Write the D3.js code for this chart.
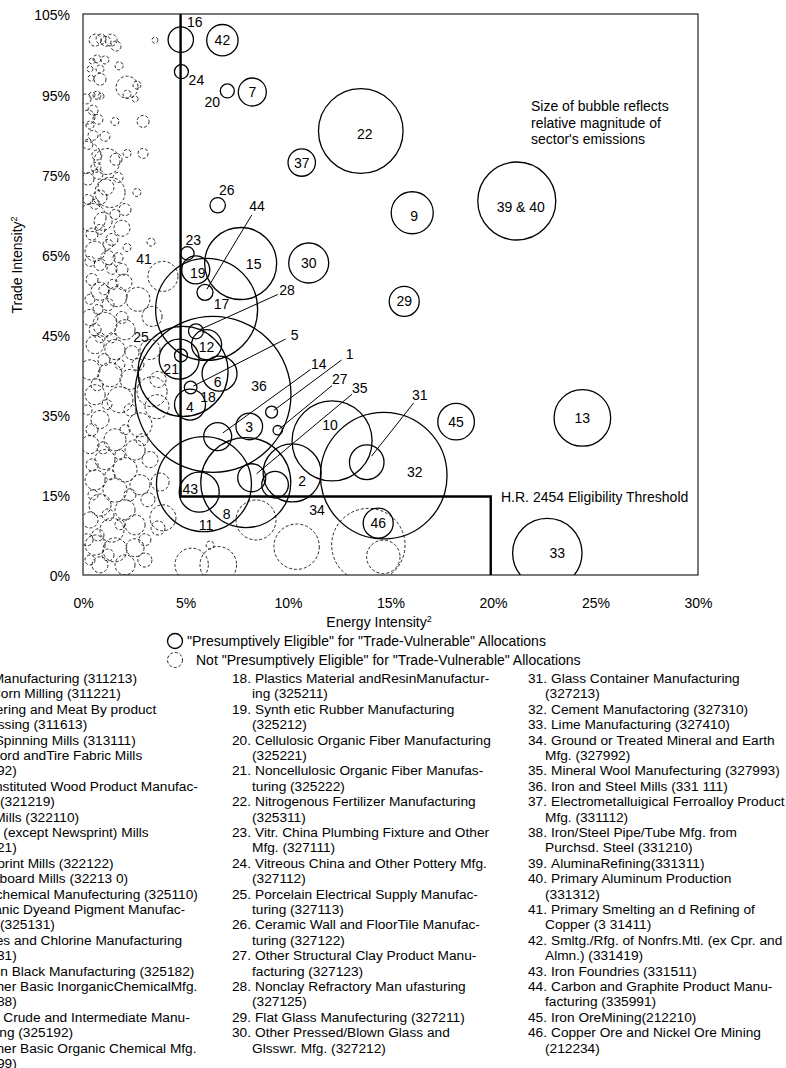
<!DOCTYPE html>
<html><head><meta charset="utf-8">
<script src="https://cdn.jsdelivr.net/npm/d3@7"></script>
<style>
body{margin:0;background:#fff;}
svg{display:block;font-family:"Liberation Sans",Arial,Helvetica,sans-serif;}
</style></head><body>
<svg id="chart" width="786" height="1068"></svg>
<script>
// ---------------- DATA ----------------
// Presumptively eligible sectors (solid bubbles): label, energy intensity (%), trade intensity (%), relative emissions
const eligibleLabels    = ["1","2","3","4","5","6","7","8","9","10","11","12","13","14","15","16","17","18","19","20","21","22","23","24","26","27","28","29","30","31","32","33","34","35","36","37","39 & 40","42","43","44","45","46",""];
const eligibleEnergy    = [9.20,10.20,8.11,5.22,5.25,6.66,8.26,7.94,16.06,12.15,5.90,6.03,24.36,6.57,7.69,4.77,6.03,4.88,5.50,7.04,4.69,13.55,5.09,4.80,6.57,9.50,5.51,15.67,11.01,13.84,14.67,22.65,9.37,8.23,6.34,10.67,21.16,6.80,5.67,5.95,18.20,14.40,4.78];
const eligibleTrade     = [30.5,19.1,27.8,31.9,35.1,37.7,90.4,17.3,67.8,25.1,17.0,43.1,29.4,25.9,58.3,100.2,49.7,38.1,57.1,90.6,40.4,83.1,60.2,94.2,69.2,27.1,45.6,51.2,58.4,21.1,18.6,4.1,16.9,18.2,33.8,77.2,70.0,100.1,15.5,52.9,28.7,9.7,41.1];
const eligibleEmissions = [36,841,177,240,40,306,196,2025,441,1600,2256,225,801,196,1296,161,2601,2025,196,49,400,1789,45,49,59,22,56,225,400,299,4007,1204,177,196,6084,188,1521,246,400,64,335,225,42];

// Not presumptively eligible sectors (dashed bubbles): [energy %, trade %, emissions]
const notEligibleUpper = [
 [0.59,100.1,36],[0.88,100.3,25],[1.12,99.9,25],[1.37,100.1,36],[1.61,99.0,25],[3.51,100.1,9],
 [0.44,96.2,9],[0.68,96.6,16],[1.07,96.4,16],[0.34,94.7,9],[0.83,94.7,16],[0.39,93.0,9],[0.83,92.8,36],[1.76,95.3,16],
 [2.15,91.3,121],[2.63,91.7,16],[2.15,90.0,16],[2.54,89.1,9],[0.44,89.8,9],[0.68,89.8,16],[0.88,89.6,9],
 [0.49,87.0,25],[0.24,85.7,49],[0.34,84.2,16],[2.93,84.9,36],[0.49,82.3,25],[1.07,82.1,25],
 [0.10,78.2,256],[1.17,77.4,169],[0.68,78.6,25],[2.15,78.9,16],[2.93,78.9,25],
 [1.32,71.6,225],[0.83,70.7,49],[1.12,72.6,64],[2.63,71.6,16],
 [0.44,66.9,196],[0.98,66.2,81],[1.90,64.9,64],[2.05,68.4,36],[3.32,62.3,16],
 [0.59,60.6,100],[1.22,59.4,49],[2.15,61.3,16],[0.83,58.1,36],[1.41,57.2,25],[1.90,57.2,36],
 [0.24,74.1,36],[0.73,75.0,25],[1.71,74.4,25],[0.44,63.8,36],[1.41,62.8,36],[0.24,80.6,25],[1.56,84.9,16],[0.15,89.1,25],
 [0.59,69.4,25],[1.56,67.5,25],[0.24,70.3,25],[1.22,61.9,25],[0.34,58.7,25],[0.83,64.7,25],[1.71,59.4,25],[0.63,76.3,25],[1.61,77.8,36],[0.73,85.3,25]
];
const notEligibleMiddle = [
 [2.0,54.8,64],[0.83,53.1,81],[1.66,52.1,100],[2.68,51.6,144],[3.37,48.4,100],[0.34,48.2,64],[1.07,46.9,144],[2.05,45.9,100],[0.59,43.1,81],[1.56,42.2,100],[2.39,41.6,49],
 [0.34,38.4,100],[1.32,37.5,144],[2.29,36.6,100],[3.66,36.6,64],[3.37,34.3,225],[3.61,31.5,144],[0.59,33.75,100],[1.80,32.8,169],[0.83,29.1,81],[2.78,28.1,144],[1.56,25.3,121],[0.34,24.4,81],[2.54,23.4,100],[1.07,21.6,100],
 [0.73,49.7,25],[1.22,50.6,36],[0.59,45.9,36],[1.41,44.4,25],[1.02,40.3,36],[1.80,39.4,25],[0.68,35.6,36],[1.17,31.9,25],[2.29,30.9,36],[0.44,27.2,36],[2.05,27.2,25],[0.98,23.8,36],[1.80,22.5,25],[0.44,20.6,36],
 [1.02,53.4,25],[0.44,55.3,36],[1.46,54.4,25],[0.34,51.6,25],[1.90,48.2,36],[0.83,44.4,25],[2.68,39.4,36],[2.88,25.3,36],[3.27,21.6,64],[0.20,30.9,25]
];
const notEligibleLower = [
 [2.05,19.7,144],[0.59,17.8,100],[1.56,15.9,144],[2.78,16.9,100],[3.76,17.4,81],[0.83,13.1,121],[2.05,12.2,100],[0.34,10.3,64],[1.41,8.4,144],[2.54,9.4,100],[3.66,8.8,49],[3.90,10.7,169],[0.59,5.6,100],[1.56,4.7,144],[2.54,5.1,81],[0.83,1.9,64],[2.05,1.9,100],[3.02,2.8,49],
 [1.32,18.75,25],[2.29,15.0,36],[0.49,15.0,25],[1.22,11.25,36],[1.80,9.4,25],[0.73,7.5,36],[1.22,3.75,36],[0.34,2.8,25],[3.17,14.1,49],[3.02,6.6,36],[0.20,6.6,36],
 [8.44,10.3,400],[10.42,5.3,515],[13.92,5.6,1347],[14.65,3.4,279],[5.30,1.9,279],[6.60,1.9,335],[6.20,5.6,16]
];
const notEligibleLabelled = [["41",3.90,55.9,225],["25",3.27,42.2,100]];

// Eligibility threshold (H.R. 2454) outline: [energy %, trade %]
const thresholdPath = [[4.76,105],[4.76,14.7],[19.89,14.7],[19.89,0]];

// Axis ticks
const xTickValues = [0,5,10,15,20,25,30];
const xTickLabels = ["0%","5%","10%","15%","20%","25%","30%"];
const yTickValues = [0,15,30,45,60,75,90,105];
const yTickLabels = ["0%","15%","35%","45%","65%","75%","95%","105%"];

// Sector list (three columns)
const sectorCol1 = [
 ["1.","Malt Manufacturing (311213)"],
 ["2.","Wet Corn Milling (311221)"],
 ["3.","Rendering and Meat By product","Processing (311613)"],
 ["4.","Yarn Spinning Mills (313111)"],
 ["5.","Tire Cord andTire Fabric Mills","(314992)"],
 ["6.","Reconstituted Wood Product Manufac-","turing (321219)"],
 ["7.","Pulp Mills (322110)"],
 ["8.","Paper (except Newsprint) Mills","(322121)"],
 ["9.","Newsprint Mills (322122)"],
 ["10.","Paperboard Mills (32213 0)"],
 ["11.","Petrochemical Manufecturing (325110)"],
 ["12.","Inorganic Dyeand Pigment Manufac-","turing (325131)"],
 ["13.","Alkalies and Chlorine Manufacturing","(325131)"],
 ["14.","Carbon Black Manufacturing (325182)"],
 ["15.","All Other Basic InorganicChemicalMfg.","(325188)"],
 ["16.","Cyclic Crude and Intermediate Manu-","facturing (325192)"],
 ["17.","All Other Basic Organic Chemical Mfg.","(325199)"]
];
const sectorCol2 = [
 ["18.","Plastics Material andResinManufactur-","ing (325211)"],
 ["19.","Synth etic Rubber Manufacturing","(325212)"],
 ["20.","Cellulosic Organic Fiber Manufacturing","(325221)"],
 ["21.","Noncellulosic Organic Fiber Manufas-","turing (325222)"],
 ["22.","Nitrogenous Fertilizer Manufacturing","(325311)"],
 ["23.","Vitr. China Plumbing Fixture and Other","Mfg. (327111)"],
 ["24.","Vitreous China and Other Pottery Mfg.","(327112)"],
 ["25.","Porcelain Electrical Supply Manufac-","turing (327113)"],
 ["26.","Ceramic Wall and FloorTile Manufac-","turing (327122)"],
 ["27.","Other Structural Clay Product Manu-","facturing (327123)"],
 ["28.","Nonclay Refractory Man ufasturing","(327125)"],
 ["29.","Flat Glass Manufecturing (327211)"],
 ["30.","Other Pressed/Blown Glass and","Glsswr. Mfg. (327212)"]
];
const sectorCol3 = [
 ["31.","Glass Container Manufacturing","(327213)"],
 ["32.","Cement Manufactoring (327310)"],
 ["33.","Lime Manufacturing (327410)"],
 ["34.","Ground or Treated Mineral and Earth","Mfg. (327992)"],
 ["35.","Mineral Wool Manufecturing (327993)"],
 ["36.","Iron and Steel Mills (331 111)"],
 ["37.","Electrometalluigical Ferroalloy Product","Mfg. (331112)"],
 ["38.","Iron/Steel Pipe/Tube Mfg. from","Purchsd. Steel (331210)"],
 ["39.","AluminaRefining(331311)"],
 ["40.","Primary Aluminum Production","(331312)"],
 ["41.","Primary Smelting an d Refining of","Copper (3 31411)"],
 ["42.","Smltg./Rfg. of Nonfrs.Mtl. (ex Cpr. and","Almn.) (331419)"],
 ["43.","Iron Foundries (331511)"],
 ["44.","Carbon and Graphite Product Manu-","facturing (335991)"],
 ["45.","Iron OreMining(212210)"],
 ["46.","Copper Ore and Nickel Ore Mining","(212234)"]
];

// ---------------- LAYOUT ----------------
const plot = {left:83, right:698, top:14, bottom:575};
const FONT = 14;
const LIST_FONT = 13.7;
// label offsets from bubble centre in px; leader = drawn with a leader line
const labelLayout = {
 "1":{dx:78,dy:-58,leader:true}, "5":{dx:104,dy:-53,leader:true}, "14":{dx:101,dy:-73,leader:true},
 "27":{dx:62,dy:-51,leader:true}, "28":{dx:91,dy:-41,leader:true}, "31":{dx:53,dy:-67,leader:true},
 "35":{dx:108,dy:-90,leader:true}, "44":{dx:52,dy:-86,leader:true},
 "16":{dx:14,dy:-18}, "24":{dx:15,dy:8}, "20":{dx:-15,dy:11}, "26":{dx:9,dy:-15}, "23":{dx:6,dy:-13},
 "17":{dx:15,dy:-6}, "21":{dx:-8,dy:10}, "18":{dx:25,dy:26}, "36":{dx:46,dy:-8}, "10":{dx:-2,dy:-16},
 "32":{dx:31,dy:-4}, "43":{dx:-9,dy:-3}, "8":{dx:-19,dy:31}, "11":{dx:2,dy:41}, "2":{dx:10,dy:8},
 "34":{dx:42,dy:25}, "6":{dx:-2,dy:8}, "15":{dx:13,dy:0}, "33":{dx:10,dy:0}, "39 & 40":{dx:4,dy:6},
 "22":{dx:4,dy:3}, "12":{dx:0,dy:2}, "4":{dx:0,dy:2}, "19":{dx:2,dy:3}, "9":{dx:2,dy:3},
 "41":{dx:-19,dy:-17}, "25":{dx:-9,dy:-13}
};

const svg = d3.select("#chart");
const x = d3.scaleLinear().domain([0,30]).range([plot.left, plot.right]);
const y = d3.scaleLinear().domain([0,105]).range([plot.bottom, plot.top]);
const r = d3.scaleSqrt().domain([0,10000]).range([0,100]);

svg.append("defs").append("clipPath").attr("id","plotClip")
  .append("rect").attr("x",plot.left).attr("y",plot.top)
  .attr("width",plot.right-plot.left).attr("height",plot.bottom-plot.top);

const eligible = eligibleLabels.map((l,i)=>({label:l, e:eligibleEnergy[i], t:eligibleTrade[i], m:eligibleEmissions[i]}));
const notEligible = [...notEligibleUpper, ...notEligibleMiddle, ...notEligibleLower]
  .map(d=>({label:"", e:d[0], t:d[1], m:d[2]}))
  .concat(notEligibleLabelled.map(d=>({label:d[0], e:d[1], t:d[2], m:d[3]})));

const gB = svg.append("g").attr("clip-path","url(#plotClip)");
gB.selectAll("circle.ne").data(notEligible).join("circle").attr("class","ne")
  .attr("cx",d=>x(d.e)).attr("cy",d=>y(d.t)).attr("r",d=>r(d.m))
  .attr("fill","none").attr("stroke","#111").attr("stroke-width",0.9).attr("stroke-dasharray","3,2");
gB.selectAll("circle.el").data(eligible).join("circle").attr("class","el")
  .attr("cx",d=>x(d.e)).attr("cy",d=>y(d.t)).attr("r",d=>r(d.m))
  .attr("fill","none").attr("stroke","#000").attr("stroke-width",1.3);

// frame
svg.append("rect").attr("x",plot.left).attr("y",plot.top)
  .attr("width",plot.right-plot.left).attr("height",plot.bottom-plot.top)
  .attr("fill","none").attr("stroke","#222").attr("stroke-width",1.2);

// threshold
svg.append("path").attr("d", d3.line().x(d=>x(d[0])).y(d=>y(d[1]))(thresholdPath))
  .attr("fill","none").attr("stroke","#000").attr("stroke-width",2.4);

// labels
const labelled = eligible.concat(notEligible).filter(d=>d.label!=="");
const gL = svg.append("g").attr("font-size",FONT).attr("fill","#000");
labelled.forEach(d=>{
  const cx=x(d.e), cy=y(d.t), rr=r(d.m);
  const L = labelLayout[d.label] || {dx:0,dy:0};
  const lx=cx+L.dx, ly=cy+L.dy;
  if(L.leader){
    const dist=Math.hypot(L.dx,L.dy), ux=L.dx/dist, uy=L.dy/dist;
    gL.append("line")
      .attr("x1",lx-ux*10).attr("y1",ly-uy*10)
      .attr("x2",cx+ux*rr*0.45).attr("y2",cy+uy*rr*0.45)
      .attr("stroke","#000").attr("stroke-width",1);
  }
  gL.append("text").attr("x",lx).attr("y",ly).attr("dy","0.36em")
    .attr("text-anchor","middle").text(d.label);
});

// annotations
const ann = svg.append("g").attr("font-size",FONT);
["Size of bubble reflects","relative magnitude of","sector's emissions"].forEach((t,i)=>{
  ann.append("text").attr("x",531).attr("y",111+i*16.7).text(t);
});
ann.append("text").attr("x",501).attr("y",501.5).text("H.R. 2454 Eligibility Threshold");

// axes
const xAxis = d3.axisBottom(x).tickValues(xTickValues).tickFormat((d,i)=>xTickLabels[i]).tickSize(0).tickPadding(23);
const gx = svg.append("g").attr("transform",`translate(0,${plot.bottom})`).call(xAxis);
gx.select(".domain").remove();
gx.selectAll("text").attr("font-size",FONT).attr("fill","#000");

const yAxis = d3.axisLeft(y).tickValues(yTickValues).tickFormat((d,i)=>yTickLabels[i]).tickSize(0).tickPadding(13);
const gy = svg.append("g").attr("transform",`translate(${plot.left},0)`).call(yAxis);
gy.select(".domain").remove();
gy.selectAll("text").attr("font-size",FONT).attr("fill","#000").attr("dy","0.42em");
gx.attr("font-family",null); gy.attr("font-family",null);

// axis titles
const xt = svg.append("text").attr("x",379).attr("y",627).attr("text-anchor","middle").attr("font-size",FONT);
xt.append("tspan").text("Energy Intensity");
xt.append("tspan").attr("font-size",9).attr("dy",-5).text("2");
const yt = svg.append("text").attr("transform","translate(22,265) rotate(-90)").attr("text-anchor","middle").attr("font-size",FONT);
yt.append("tspan").text("Trade Intensity");
yt.append("tspan").attr("font-size",9).attr("dy",-5).text("2");

// legend
const lg = svg.append("g").attr("font-size",FONT);
lg.append("circle").attr("cx",175).attr("cy",641).attr("r",7.5).attr("fill","none").attr("stroke","#000").attr("stroke-width",1.3);
lg.append("text").attr("x",187).attr("y",646).text('"Presumptively Eligible" for "Trade-Vulnerable" Allocations');
lg.append("circle").attr("cx",175).attr("cy",660).attr("r",7.5).attr("fill","none").attr("stroke","#111").attr("stroke-width",0.9).attr("stroke-dasharray","3,2");
lg.append("text").attr("x",196).attr("y",665).text('Not "Presumptively Eligible" for "Trade-Vulnerable" Allocations');

// sector list
function drawColumn(items, textX, contX){
  const g = svg.append("g").attr("font-size",LIST_FONT);
  let line=0;
  items.forEach(it=>{
    const yy = 683 + line*15.4;
    g.append("text").attr("x",textX-4).attr("y",yy).attr("text-anchor","end").text(it[0]);
    g.append("text").attr("x",textX).attr("y",yy).text(it[1]);
    line++;
    for(let k=2;k<it.length;k++){
      g.append("text").attr("x",contX).attr("y",683+line*15.4).text(it[k]);
      line++;
    }
  });
}
drawColumn(sectorCol1,-37,-38);
drawColumn(sectorCol2,255,252);
drawColumn(sectorCol3,551,545);
</script>
</body></html>
